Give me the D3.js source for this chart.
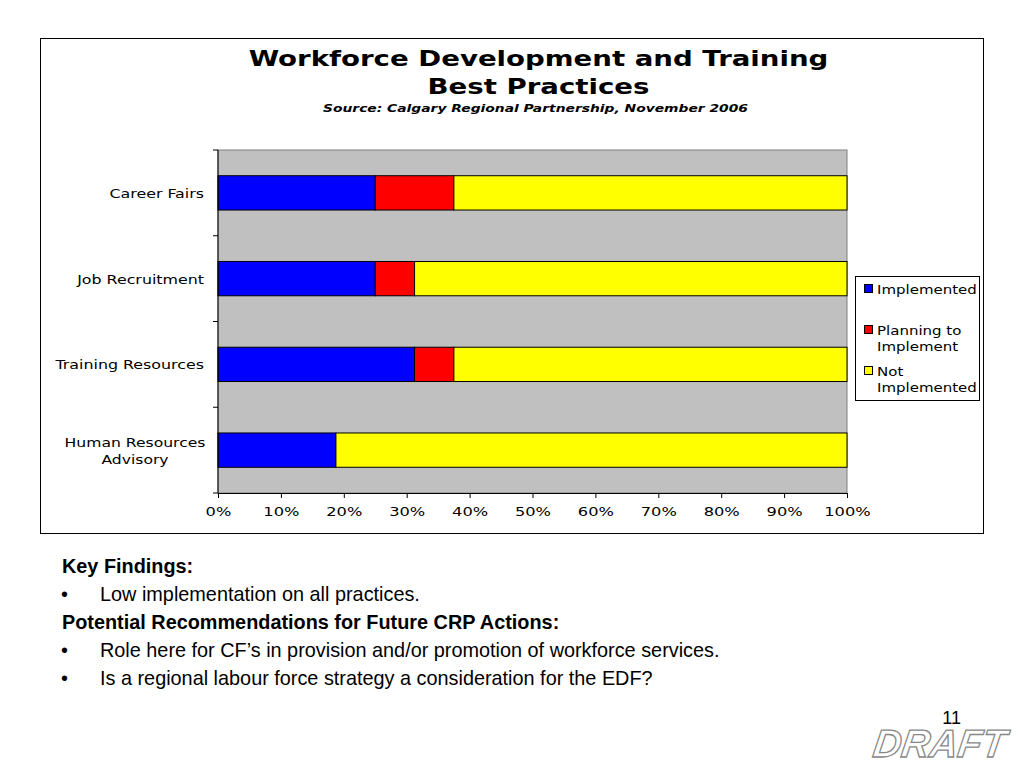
<!DOCTYPE html>
<html><head><meta charset="utf-8">
<script src="https://cdn.jsdelivr.net/npm/d3@7/dist/d3.min.js"></script>
<style>body{margin:0;background:#fff}svg{display:block}</style>
</head><body>
<script>
const categories = ["Career Fairs", "Job Recruitment", "Training Resources", "Human Resources Advisory"];
const seriesNames = ["Implemented", "Planning to Implement", "Not Implemented"];
const implemented = [25, 25, 31.25, 18.75];
const planning = [12.5, 6.25, 6.25, 0];
const notImplemented = [62.5, 68.75, 62.5, 81.25];
const xTicks = [0, 10, 20, 30, 40, 50, 60, 70, 80, 90, 100];
const colors = ["#0000ff", "#ff0000", "#ffff00"];

const W = 1024, H = 768;
const svg = d3.select("body").append("svg").attr("width", W).attr("height", H);

const chartFont = "DejaVu Sans, Verdana, sans-serif";
const SX = 1.28; // horizontal stretch of chart text

function sText(parent, x, y, str, opts) {
  const g = parent.append("g").attr("transform", `translate(${x},${y}) scale(${opts.sx || SX},1)`);
  const t = g.append("text").attr("x", 0).attr("y", 0)
    .attr("text-anchor", opts.anchor || "start")
    .attr("font-family", chartFont).attr("font-size", opts.size)
    .attr("fill", "#000");
  if (opts.bold) t.attr("font-weight", "bold");
  if (opts.italic) t.attr("font-style", "italic");
  t.text(str);
  return t;
}

// chart frame
svg.append("rect").attr("x", 40.5).attr("y", 38.5).attr("width", 943).attr("height", 495)
  .attr("fill", "#fff").attr("stroke", "#000").attr("stroke-width", 1);

sText(svg, 538.5, 66, "Workforce Development and Training", {anchor: "middle", size: 21, bold: true, sx: 1.315});
sText(svg, 538.5, 94, "Best Practices", {anchor: "middle", size: 21, bold: true, sx: 1.315});
sText(svg, 535.5, 112, "Source: Calgary Regional Partnership, November 2006", {anchor: "middle", size: 11, bold: true, italic: true, sx: 1.26});

const plot = {left: 218, right: 847, top: 150, bottom: 493};
const x = d3.scaleLinear().domain([0, 100]).range([plot.left, plot.right]);
const y = d3.scaleBand().domain(categories).range([plot.top, plot.bottom]).paddingInner(0.6).paddingOuter(0.3);

svg.append("rect").attr("x", plot.left).attr("y", plot.top)
  .attr("width", plot.right - plot.left).attr("height", plot.bottom - plot.top)
  .attr("fill", "#c0c0c0").attr("stroke", "#808080").attr("stroke-width", 1);

const rows = categories.map((c, i) => ({cat: c, vals: [implemented[i], planning[i], notImplemented[i]]}));
const stack = d3.stack().keys([0, 1, 2]).value((d, k) => d.vals[k]);
const stacked = stack(rows);

svg.append("g").selectAll("g").data(stacked).join("g")
  .attr("fill", (d, i) => colors[i])
  .selectAll("rect").data(d => d.filter(s => s[1] - s[0] > 0)).join("rect")
  .attr("x", d => x(d[0]))
  .attr("y", d => y(d.data.cat))
  .attr("width", d => x(d[1]) - x(d[0]))
  .attr("height", y.bandwidth())
  .attr("stroke", "#000").attr("stroke-width", 1);

// x axis
const xAxis = d3.axisBottom(x).tickValues(xTicks).tickFormat(d => d + "%").tickSize(5).tickSizeOuter(0);
const gx = svg.append("g").attr("transform", `translate(0,${plot.bottom})`).call(xAxis);
gx.select(".domain").attr("stroke", "#000");
gx.selectAll(".tick line").attr("stroke", "#000");
gx.selectAll("text").attr("font-family", chartFont).attr("font-size", 12.7).attr("fill", "#000")
  .attr("y", 23).attr("dy", 0).attr("transform", `scale(${SX},1)`);

// y axis: ticks at band boundaries
const yAxisLine = svg.append("g");
yAxisLine.append("line").attr("x1", plot.left).attr("x2", plot.left).attr("y1", plot.top).attr("y2", plot.bottom).attr("stroke", "#000");
const step = (plot.bottom - plot.top) / categories.length;
const bounds = d3.range(categories.length + 1).map(i => plot.top + i * step);
yAxisLine.selectAll(".yt").data(bounds).join("line").attr("class", "yt")
  .attr("x1", plot.left - 5).attr("x2", plot.left).attr("y1", d => d).attr("y2", d => d).attr("stroke", "#000");

// y labels
const labelLines = {"Human Resources Advisory": ["Human Resources", "Advisory"]};
categories.forEach(c => {
  const lines = labelLines[c] || [c];
  const cy = y(c) + y.bandwidth() / 2;
  const lh = 17;
  lines.forEach((l, j) => {
    const yy = cy + 5 + (j - (lines.length - 1) / 2) * lh;
    if (lines.length > 1) sText(svg, 135, yy, l, {anchor: "middle", size: 12.5, sx: 1.25});
    else sText(svg, 204, yy, l, {anchor: "end", size: 12.5, sx: 1.27});
  });
});

// legend
const lg = svg.append("g");
lg.append("rect").attr("x", 855.5).attr("y", 276.5).attr("width", 124).attr("height", 124)
  .attr("fill", "#fff").attr("stroke", "#000");
const legendLines = [["Implemented"], ["Planning to", "Implement"], ["Not", "Implemented"]];
const legendY = [289, 330, 371];
seriesNames.forEach((s, i) => {
  lg.append("rect").attr("x", 864.5).attr("y", legendY[i] - 4.5).attr("width", 8).attr("height", 8)
    .attr("fill", colors[i]).attr("stroke", "#000");
  legendLines[i].forEach((l, j) => {
    sText(lg, 877, legendY[i] + 5 + j * 16, l, {size: 12.5, sx: 1.2});
  });
});

// text below
const bodyFont = "Liberation Sans, Arial, sans-serif";
const body = [
  {t: "Key Findings:", bold: true, y: 572.5},
  {t: "Low implementation on all practices.", bullet: true, y: 600.5},
  {t: "Potential Recommendations for Future CRP Actions:", bold: true, y: 628.5},
  {t: "Role here for CF\u2019s in provision and/or promotion of workforce services.", bullet: true, y: 657},
  {t: "Is a regional labour force strategy a consideration for the EDF?", bullet: true, y: 685}
];
const bfs = 19.85;
body.forEach(b => {
  if (b.bullet) {
    svg.append("text").attr("x", 61).attr("y", b.y).attr("font-family", bodyFont).attr("font-size", bfs).text("\u2022");
    svg.append("text").attr("x", 100).attr("y", b.y).attr("font-family", bodyFont).attr("font-size", bfs).text(b.t);
  } else {
    svg.append("text").attr("x", 62).attr("y", b.y).attr("font-family", bodyFont).attr("font-size", bfs)
      .attr("font-weight", "bold").text(b.t);
  }
});

svg.append("text").attr("x", 961).attr("y", 724).attr("text-anchor", "end")
  .attr("font-family", bodyFont).attr("font-size", 18).text("11");
svg.append("g").attr("transform", "translate(1004,757) skewX(-8)")
  .append("text").attr("x", 0).attr("y", 0).attr("text-anchor", "end")
  .attr("font-family", bodyFont).attr("font-size", 39).attr("font-weight", "bold").attr("font-style", "italic")
  .attr("fill", "#fff").attr("stroke", "#888").attr("stroke-width", 1.3).text("DRAFT");
</script>
</body></html>
